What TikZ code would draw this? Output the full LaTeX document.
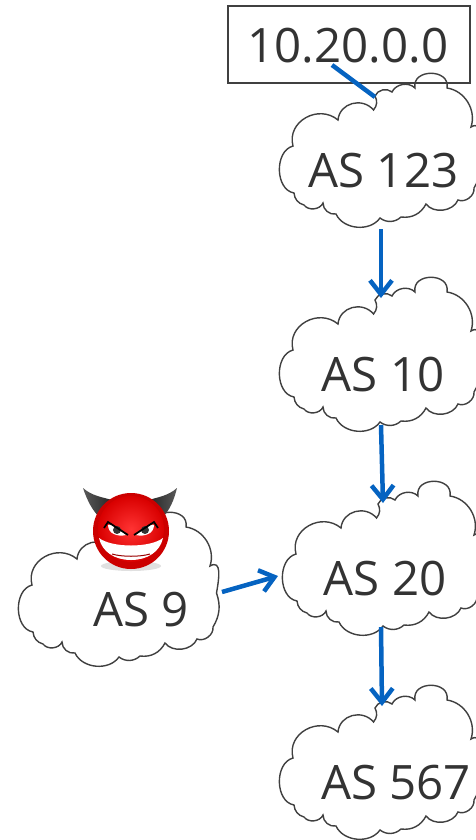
\documentclass[tikz,border=0pt]{standalone}
\usepackage{fontspec}
\setmainfont{Open Sans}
\usepackage{xcolor}
\usetikzlibrary{calc,arrows.meta}
\definecolor{linkblue}{HTML}{0563C1}
\definecolor{labelgray}{HTML}{333333}
\tikzset{
  aslabel/.style = {text = labelgray, font = \fontsize{27}{30}\selectfont, inner sep = 0pt},
  aslink/.style = {draw = linkblue, line width = 0.09cm, -{Straight Barb[length = 0.28cm, width = 0.44cm, line width = 0.09cm]}},
  asline/.style = {draw = linkblue, line width = 0.09cm},
  ascloud/.pic = {
    \draw[draw = black!75, line width = 0.028cm, fill = white]
      (-7.5,-41) to[bend right = 35] (-6,-55)
      to[bend left = 55] (11,-59)
      to[bend left = 55] (34,-63)
      to[out = 100, in = 80, looseness = 1.6] (66,-63)
      to[bend left = 50] (90,-24)
      to[out = 30, in = 80, looseness = 1.3] (96.5,3)
      to[bend left = 25] (93,37)
      to[bend left = 60] (77,49)
      to[bend left = 60] (45,53)
      to[bend left = 35] (20,66)
      to[bend left = 40] (-1,67)
      to[bend left = 60] (-45,63)
      to[bend left = 50] (-58,52)
      to[bend left = 60] (-77,54)
      to[bend left = 35] (-87,42)
      to[out = 170, in = 195, looseness = 1.05] (-88,-5)
      to[out = 105, in = 140, looseness = 1.25] (-43,-31)
      to[out = 85, in = 130, looseness = 1.2] cycle;
  }
}

\begin{document}
\begin{tikzpicture}[x = 0.02cm, y = -0.02cm]
  \clip (0,0) rectangle (476,840);

  % clouds
  \pic at (381,151) {ascloud};
  \pic at (381,355) {ascloud};
  \pic at (384,559) {ascloud};
  \pic at (381,763) {ascloud};
  \pic at (120,590) {ascloud};

  % prefix box
  \node[draw = black!75, line width = 0.03cm, minimum width = 4.84cm, minimum height = 1.54cm, inner sep = 0pt] (prefix) at (349,44.5) {};
  \node[aslabel] (prefixtext) at (348,46) {10.20.0.0};

  \node[aslabel] (as123) at (383.5,171) {AS 123};
  \node[aslabel] (as10) at (383,375) {AS 10};
  \node[aslabel] (as20) at (385,579) {AS 20};
  \node[aslabel] (as567) at (396,783) {AS 567};
  \node[aslabel] (as9) at (141,610) {AS 9};

  % link ends
  \coordinate (prefixout) at (332,65);
  \coordinate (as123top) at (375,97);
  \coordinate (as123out) at (381,229);
  \coordinate (as10in) at (381,298);
  \coordinate (as10out) at (381,425);
  \coordinate (as20in) at (383,503);
  \coordinate (as20out) at (381,627);
  \coordinate (as567in) at (382,706);
  \coordinate (as9out) at (222,592);
  \coordinate (as20left) at (278,576);

  \draw[asline] (prefixout) -- (as123top);
  \draw[aslink] (as123out) -- (as10in);
  \draw[aslink] (as10out) -- (as20in);
  \draw[aslink] (as20out) -- (as567in);
  \draw[aslink] (as9out) -- (as20left);

  % devil
  \fill[black!12] (131,566) ellipse (30 and 5);
  \shade[left color = black!65, right color = black!85] (83,488) .. controls (92,496) and (102,497) .. (112,500) -- (100,518) .. controls (92,510) and (87,500) .. (83,488) -- cycle;
  \shade[right color = black!65, left color = black!85] (177,488) .. controls (168,496) and (158,497) .. (149,500) -- (162,518) .. controls (170,510) and (174,500) .. (177,488) -- cycle;
  \fill[red!80!black] (131,531) circle (38);
  \shade[inner color = red!80!white, outer color = red!85!black] (131,529) circle (33);

  \fill[white] (99,538) .. controls (112,548) and (150,548) .. (163,538) .. controls (160,552) and (147,560) .. (131,560) .. controls (115,560) and (102,552) .. (99,538) -- cycle;
  \draw[red!60!black, line width = 0.02cm] (112,554) .. controls (122,557) and (140,557) .. (150,554);

  \fill[white] (108,525) .. controls (113,523) and (122,530) .. (126,535) .. controls (118,537) and (108,534) .. (108,525) -- cycle;
  \fill[white] (154,525) .. controls (149,523) and (140,530) .. (136,535) .. controls (144,537) and (154,534) .. (154,525) -- cycle;
  \fill[black!80] (117,530) circle (4);
  \fill[black!80] (145,530) circle (4);
  \draw[black, line width = 0.035cm] (104,528) -- (108,522) -- (128,535);
  \draw[black, line width = 0.035cm] (158,528) -- (154,522) -- (134,535);
\end{tikzpicture}
\end{document}
